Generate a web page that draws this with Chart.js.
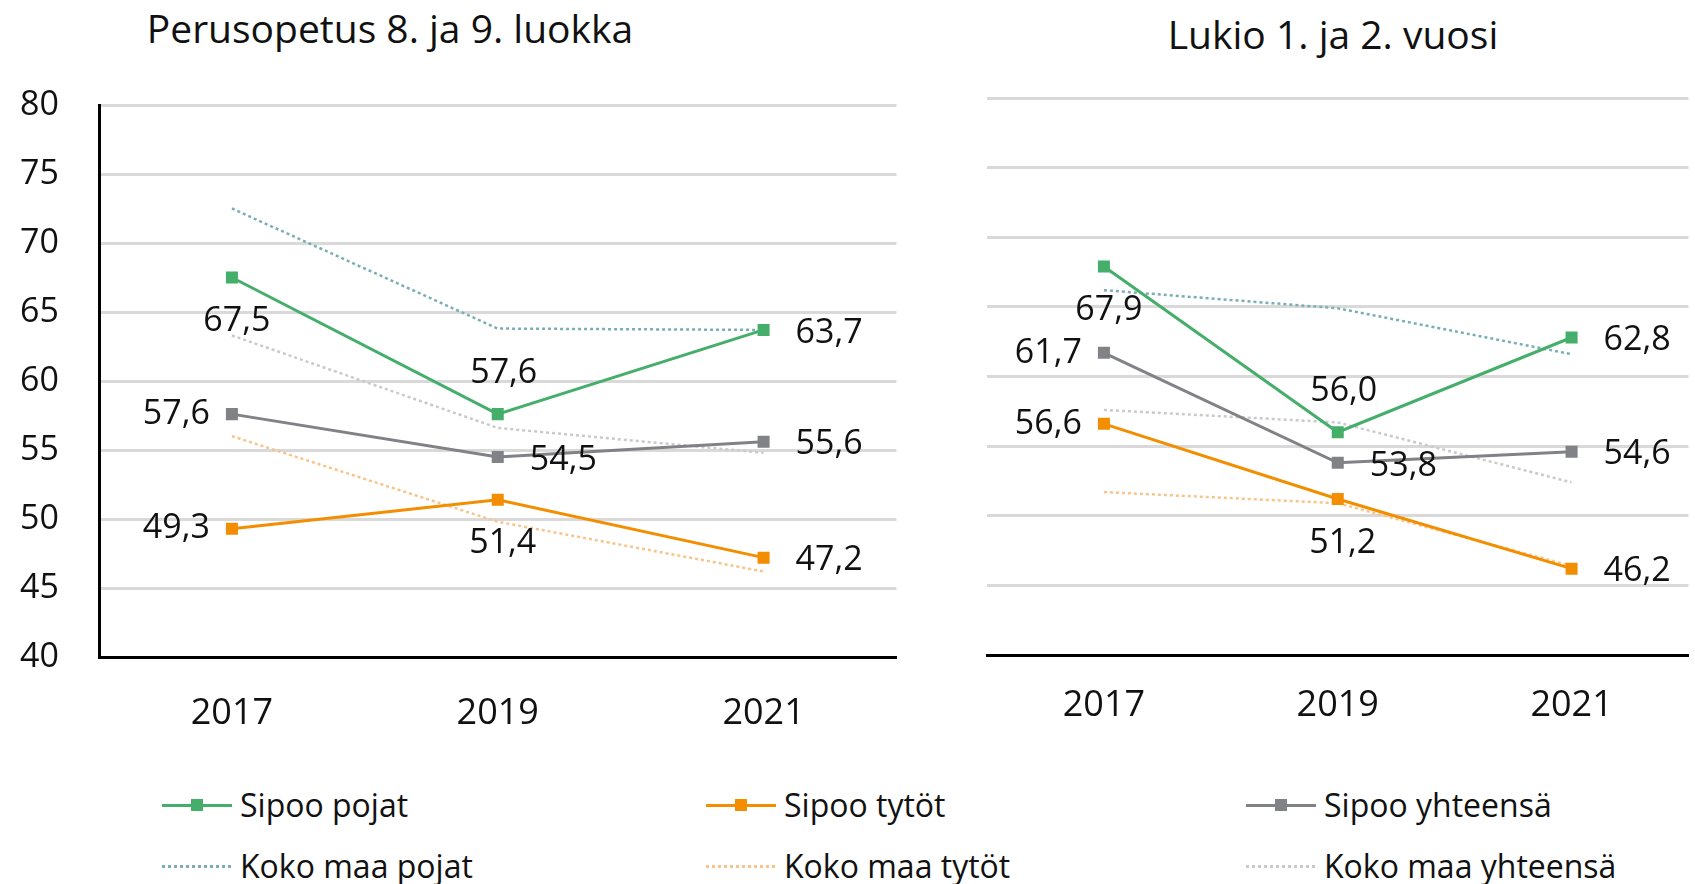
<!DOCTYPE html>
<html lang="fi">
<head>
<meta charset="utf-8">
<title>Sipoo</title>
<script src="https://cdn.jsdelivr.net/npm/chart.js@4/dist/chart.umd.min.js"></script>
<style>
  body {
    margin: 0;
    width: 1695px;
    height: 884px;
    position: relative;
    overflow: hidden;
    background: #fff;
    font-family: 'Open Sans', sans-serif;
    color: #111;
  }
  canvas { position: absolute; top: 0; }
  #graafiPerus { left: 0; }
  #graafiLukio { left: 960px; }
  .otsikko {
    position: absolute;
    font-size: 39px;
    line-height: 1;
    white-space: nowrap;
    transform: translate(-50%, -50%);
  }
  .selite {
    position: absolute;
    display: flex;
    align-items: center;
    height: 40px;
    font-size: 32px;
    line-height: 1;
    white-space: nowrap;
    transform: translateY(-50%);
  }
  .nayte {
    position: relative;
    width: 70px;
    height: 3px;
    margin-right: 8px;
  }
  .nayte .pallo {
    position: absolute;
    left: 29px;
    top: -5px;
    width: 12px;
    height: 12px;
  }
</style>
</head>
<body>

<div class="otsikko" style="left:390px; top:27px;">Perusopetus 8. ja 9. luokka</div>
<div class="otsikko" style="left:1333px; top:33px;">Lukio  1. ja 2. vuosi</div>

<canvas id="graafiPerus" width="905" height="740"></canvas>
<canvas id="graafiLukio" width="737" height="740"></canvas>

<div id="selitteet"></div>

<script>
// Vuodet (x-akseli)
const vuodet = ['2017', '2019', '2021'];

// Sarjojen nimet
const sarjat = ['Sipoo pojat', 'Sipoo tytöt', 'Sipoo yhteensä', 'Koko maa pojat', 'Koko maa tytöt', 'Koko maa yhteensä'];

// Perusopetus 8. ja 9. luokka
const perusSipooPojat = [67.5, 57.6, 63.7];
const perusSipooTytot = [49.3, 51.4, 47.2];
const perusSipooYht = [57.6, 54.5, 55.6];
const perusMaaPojat = [72.5, 63.8, 63.7];
const perusMaaTytot = [56.0, 49.8, 46.2];
const perusMaaYht = [63.3, 56.6, 54.8];

// Lukio 1. ja 2. vuosi
const lukioSipooPojat = [67.9, 56.0, 62.8];
const lukioSipooTytot = [56.6, 51.2, 46.2];
const lukioSipooYht = [61.7, 53.8, 54.6];
const lukioMaaPojat = [66.2, 64.9, 61.6];
const lukioMaaTytot = [51.7, 50.9, 46.4];
const lukioMaaYht = [57.6, 56.7, 52.4];

// y-akselin asteikko
const yMin = 40;
const yMax = 80;
const yVali = 5;

// värit ja tyylit
const varit = ['#45ae6a', '#f28e00', '#808285', '#7aaeb4', '#f9c48a', '#cacaca'];
const pisteviiva = [false, false, false, true, true, true];

// arvojen sijainti pisteen ympärillä: v = vasen, o = oikea, y = ylä, a = ala
const sijainnitPojat = ['a', 'y', 'o'];
const sijainnitTytot = ['v', 'a', 'o'];
const sijainnitYht = ['v', 'o', 'o'];

const fontti = "'Open Sans', sans-serif";

// Plugin joka piirtää arvot pisteiden viereen
const arvoPlugin = {
  id: 'arvot',
  afterDatasetsDraw(chart) {
    const ctx = chart.ctx;
    ctx.save();
    ctx.font = '34px ' + fontti;
    ctx.fillStyle = '#111';
    ctx.textBaseline = 'middle';
    chart.data.datasets.forEach((ds, i) => {
      if (!ds.sijainnit) return;
      const meta = chart.getDatasetMeta(i);
      meta.data.forEach((piste, j) => {
        const teksti = ds.data[j].toFixed(1).replace('.', ',');
        const s = ds.sijainnit[j];
        let x = piste.x;
        let y = piste.y;
        if (s === 'v') { ctx.textAlign = 'right'; x -= 22; }
        else if (s === 'o') { ctx.textAlign = 'left'; x += 32; y += 3; }
        else if (s === 'y') { ctx.textAlign = 'center'; x += 6; y -= 41; }
        else { ctx.textAlign = 'center'; x += 5; y += 44; }
        ctx.fillText(teksti, x, y);
      });
    });
    ctx.restore();
  }
};

function teeSarja(nro, arvot, sijainnit) {
  const sarja = {
    label: sarjat[nro],
    data: arvot,
    borderColor: varit[nro],
    backgroundColor: varit[nro],
    tension: 0,
    fill: false
  };
  if (pisteviiva[nro]) {
    sarja.borderWidth = 2.5;
    sarja.borderDash = [3, 3];
    sarja.pointRadius = 0;
  } else {
    sarja.borderWidth = 3;
    sarja.pointStyle = 'rect';
    sarja.pointRadius = 8.5;
    sarja.pointBorderWidth = 0;
    sarja.sijainnit = sijainnit;
  }
  return sarja;
}

function teeGraafi(canvas, arvot, asetukset) {
  // kiinteät viivat ensin jotta ne piirtyvät päällimmäisiksi
  const datasets = [
    teeSarja(0, arvot[0], sijainnitPojat),
    teeSarja(1, arvot[1], sijainnitTytot),
    teeSarja(2, arvot[2], sijainnitYht),
    teeSarja(3, arvot[3]),
    teeSarja(4, arvot[4]),
    teeSarja(5, arvot[5])
  ];

  return new Chart(canvas, {
    type: 'line',
    data: { labels: vuodet, datasets: datasets },
    plugins: [arvoPlugin],
    options: {
      responsive: false,
      animation: false,
      devicePixelRatio: 1,
      layout: { padding: asetukset.padding },
      plugins: {
        legend: { display: false },
        tooltip: { enabled: false }
      },
      scales: {
        x: {
          offset: true,
          grid: { display: false, drawTicks: false },
          border: { display: true, color: '#000', width: 3 },
          ticks: {
            padding: asetukset.xPadding,
            color: '#111',
            font: { family: fontti, size: 36 }
          },
          afterFit: s => { s.height = asetukset.xKorkeus; }
        },
        y: {
          min: yMin,
          max: yMax,
          grid: {
            drawTicks: false,
            lineWidth: 3,
            color: c => (c.tick && c.tick.value === yMin) ? 'rgba(0,0,0,0)' : '#d9d9d9'
          },
          border: { display: asetukset.yViiva, color: '#000', width: 3 },
          ticks: {
            display: asetukset.yNumerot,
            stepSize: yVali,
            padding: 40,
            color: '#111',
            font: { family: fontti, size: 34 }
          },
          afterFit: s => { s.width = asetukset.yLeveys; }
        }
      }
    }
  });
}

teeGraafi(document.getElementById('graafiPerus'),
  [perusSipooPojat, perusSipooTytot, perusSipooYht, perusMaaPojat, perusMaaTytot, perusMaaYht],
  { padding: { top: 105, right: 0, left: 0, bottom: 0 }, xPadding: 35, xKorkeus: 83, yViiva: true, yNumerot: true, yLeveys: 99 });

teeGraafi(document.getElementById('graafiLukio'),
  [lukioSipooPojat, lukioSipooTytot, lukioSipooYht, lukioMaaPojat, lukioMaaTytot, lukioMaaYht],
  { padding: { top: 98, right: 0, left: 27, bottom: 0 }, xPadding: 29, xKorkeus: 85, yViiva: false, yNumerot: false, yLeveys: 0 });

// Selitteet kahdessa rivissä
const seliteX = [162, 706, 1246];
const seliteY = [805, 866];
const selitteet = document.getElementById('selitteet');
sarjat.forEach((nimi, i) => {
  const div = document.createElement('div');
  div.className = 'selite';
  div.style.left = seliteX[i % 3] + 'px';
  div.style.top = seliteY[Math.floor(i / 3)] + 'px';

  const nayte = document.createElement('span');
  nayte.className = 'nayte';
  if (pisteviiva[i]) {
    nayte.style.background = `repeating-linear-gradient(90deg, ${varit[i]} 0 3px, transparent 3px 6px)`;
  } else {
    nayte.style.background = varit[i];
    const pallo = document.createElement('span');
    pallo.className = 'pallo';
    pallo.style.background = varit[i];
    nayte.appendChild(pallo);
  }
  div.appendChild(nayte);

  const teksti = document.createElement('span');
  teksti.textContent = nimi;
  div.appendChild(teksti);
  selitteet.appendChild(div);
});
</script>
</body>
</html>
